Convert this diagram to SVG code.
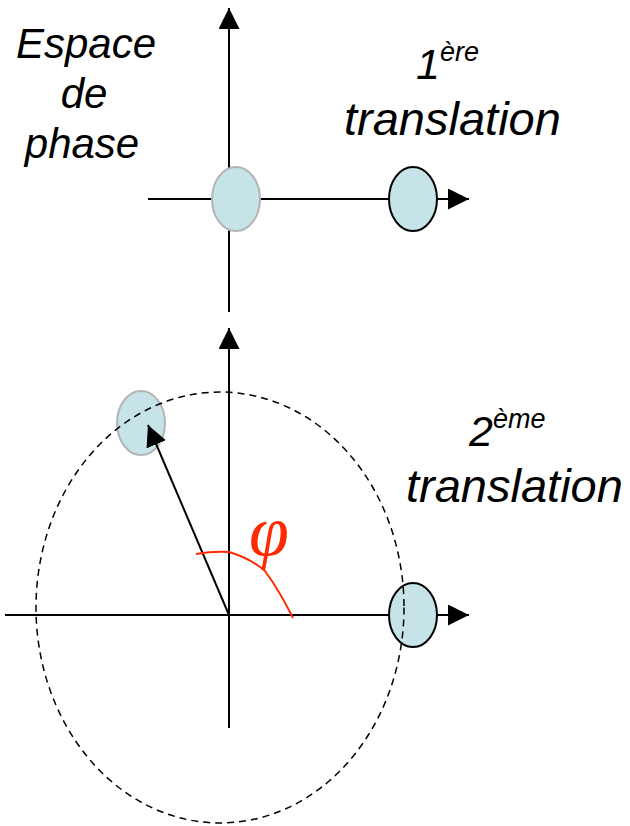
<svg xmlns="http://www.w3.org/2000/svg" width="630" height="826" viewBox="0 0 630 826">
<defs>
<style>
.ax{stroke:#000;stroke-width:2;fill:none}
.lbl{font-family:"Liberation Sans",Arial,sans-serif;font-style:italic;fill:#000}
.blob{fill:#c6e4e8}
.g{stroke:#b4b4b4;stroke-width:2}
.k{stroke:#000;stroke-width:2}
</style>
<marker id="ahb" viewBox="0 0 10 10" refX="10" refY="5" markerWidth="21" markerHeight="21" markerUnits="userSpaceOnUse" orient="auto">
<path d="M0,0 L10,5 L0,10 z" fill="#000"/>
</marker>
</defs>
<rect width="630" height="826" fill="#fff"/>
<g id="connectors">
<line class="ax" x1="229" y1="312" x2="229" y2="8" marker-end="url(#ahb)"/>
<line class="ax" x1="148" y1="199" x2="469" y2="199" marker-end="url(#ahb)"/>
<line class="ax" x1="229" y1="728" x2="229" y2="328" marker-end="url(#ahb)"/>
<line class="ax" x1="5" y1="615" x2="469" y2="615" marker-end="url(#ahb)"/>
</g>
<g id="node-start1"><ellipse class="blob g" cx="236" cy="199" rx="24" ry="32"/></g>
<g id="node-end1"><ellipse class="blob k" cx="413" cy="199" rx="24" ry="32"/></g>
<g id="node-rot"><ellipse class="blob g" cx="141" cy="423" rx="24" ry="32"/></g>
<g id="node-end2"><ellipse class="blob k" cx="413" cy="615" rx="24" ry="32"/></g>
<g id="circle"><ellipse cx="220" cy="607.5" rx="184" ry="215.5" fill="none" stroke="#000" stroke-width="1.5" stroke-dasharray="7,5"/></g>
<g id="vector"><line x1="229" y1="615" x2="148" y2="425" stroke="#000" stroke-width="2" marker-end="url(#ahb)"/></g>
<g id="angle">
<path d="M196,554 Q213,551 229,552 Q250,558 265,571 Q279,590 293,618" fill="none" stroke="#ff2a00" stroke-width="2"/>
<text x="249" y="555" font-family="'Liberation Serif','Times New Roman',serif" font-style="italic" font-size="72" fill="#ff2a00">φ</text>
</g>
<g id="label-espace" class="lbl" font-size="42" text-anchor="middle">
<text x="86" y="58">Espace</text>
<text x="84" y="108">de</text>
<text x="82" y="158">phase</text>
</g>
<g id="label-1" class="lbl">
<text x="416" y="79" font-size="43">1<tspan font-size="27" dy="-18">ère</tspan></text>
<text x="344" y="135" font-size="47">translation</text>
</g>
<g id="label-2" class="lbl">
<text x="469" y="446" font-size="43">2<tspan font-size="27" dy="-18">ème</tspan></text>
<text x="406" y="502" font-size="47">translation</text>
</g>
</svg>
